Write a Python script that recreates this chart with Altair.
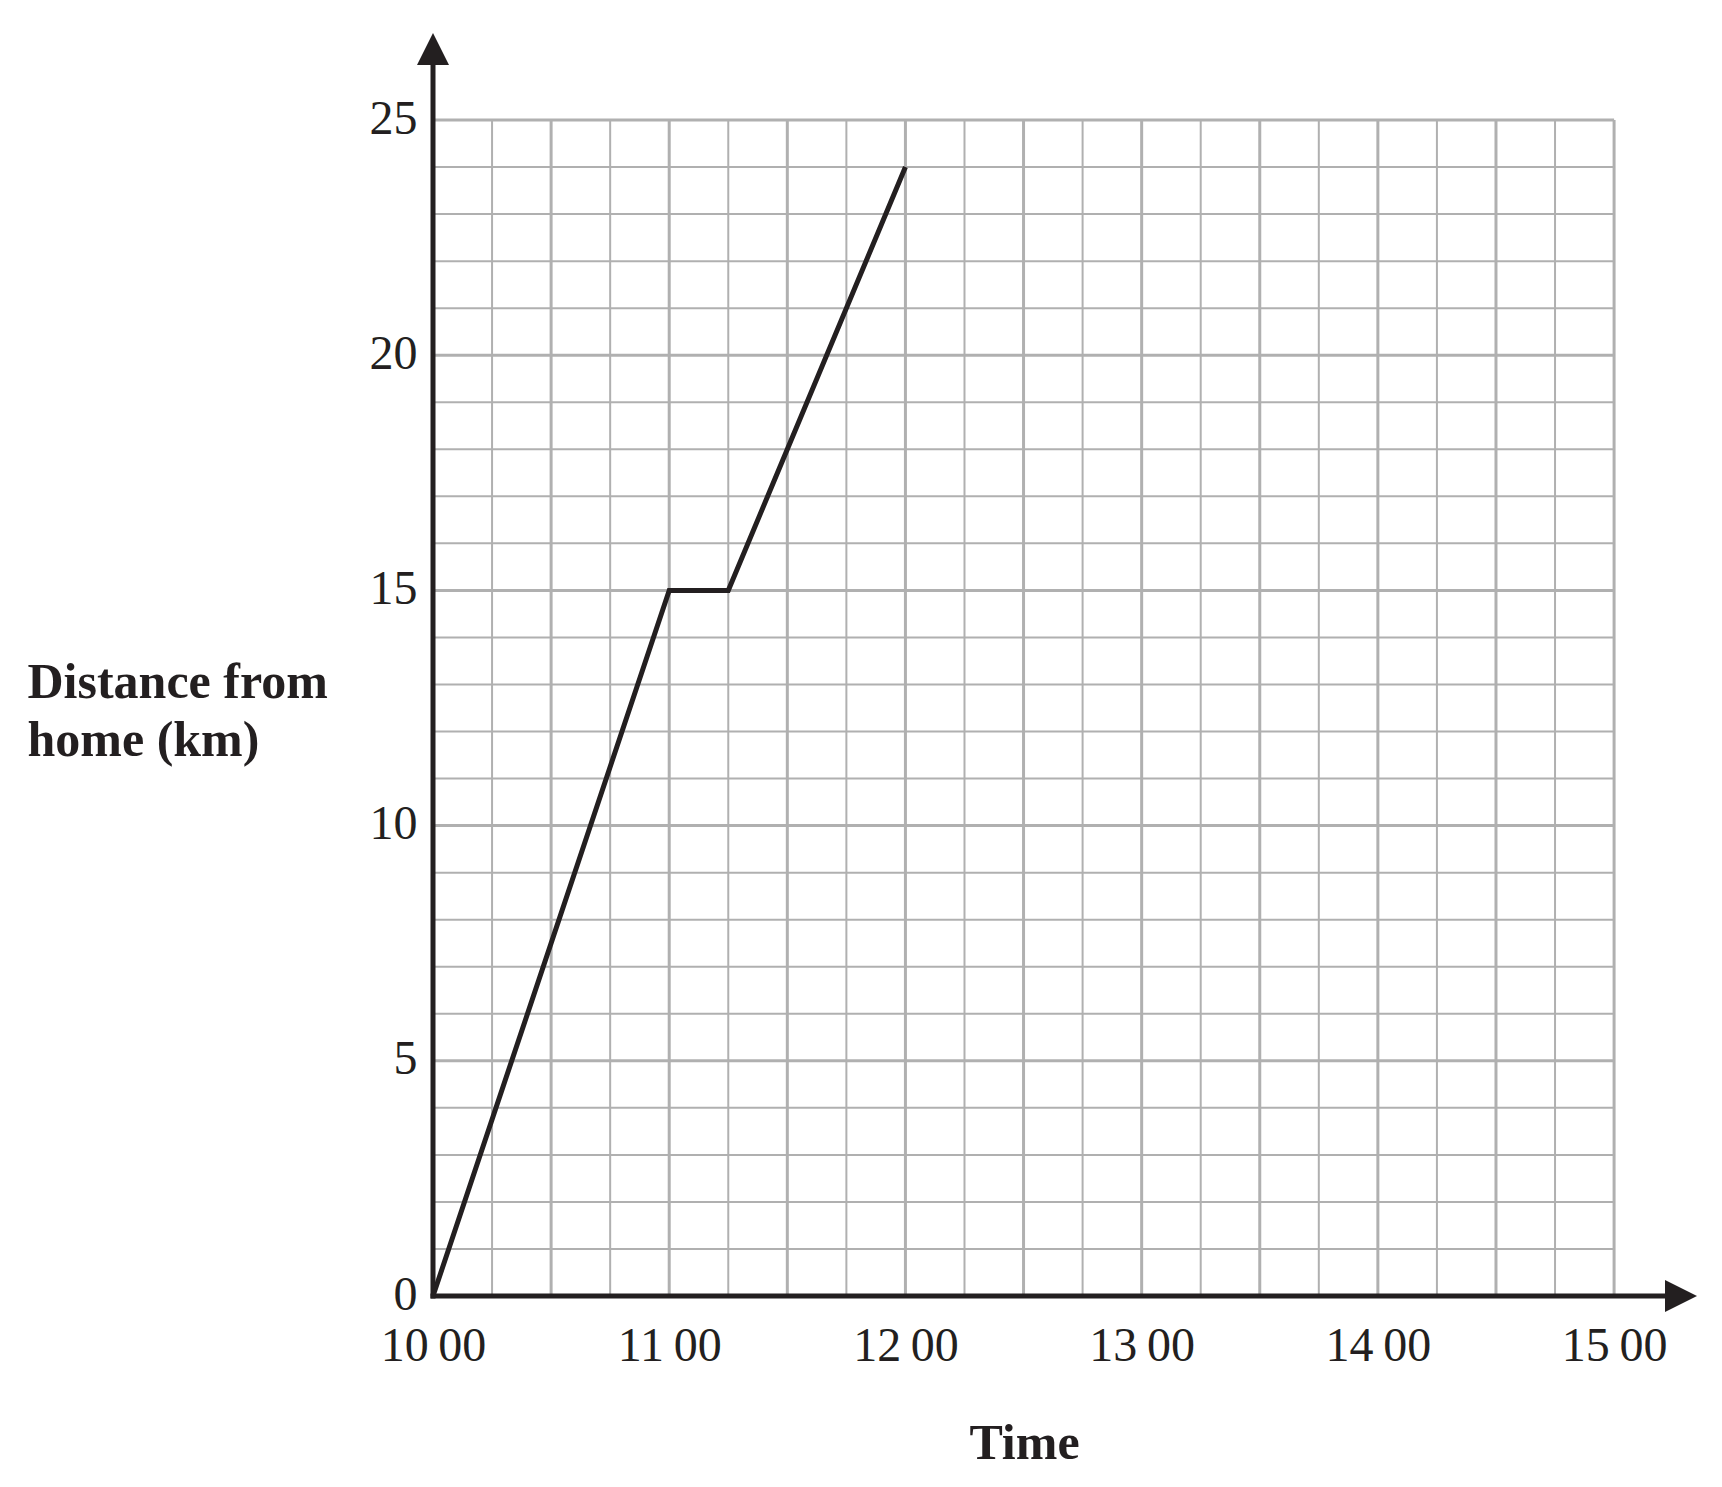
import altair as alt
import pandas as pd

# ---------------- data ----------------
times_h = [10.0, 11.0, 11.25, 12.0]          # 10:00, 11:00, 11:15, 12:00
distance_km = [0, 15, 15, 24]

x_tick_hours = [10, 11, 12, 13, 14, 15]
x_tick_labels = ["10\u200900", "11\u200900", "12\u200900", "13\u200900", "14\u200900", "15\u200900"]
y_tick_values = [0, 5, 10, 15, 20, 25]

x_major_grid = [10.0, 10.5, 11.0, 11.5, 12.0, 12.5, 13.0, 13.5, 14.0, 14.5, 15.0]
x_minor_grid = [10.25, 10.75, 11.25, 11.75, 12.25, 12.75, 13.25, 13.75, 14.25, 14.75]
y_major_grid = [0, 5, 10, 15, 20, 25]
y_minor_grid = [1, 2, 3, 4, 6, 7, 8, 9, 11, 12, 13, 14, 16, 17, 18, 19, 21, 22, 23, 24]

x_title = "Time"
y_title = ["Distance from", "home (km)"]

# ---------------- style ----------------
INK = "#231f20"
GRID = "#b0b0b0"
FONT = "Liberation Serif"

X_START, X_GRID_END, X_END = 10, 15, 15.351
Y_START, Y_GRID_END, Y_END = 0, 25, 26.85
PLOT_W, PLOT_H = 1264, 1263

xs = alt.Scale(domain=[X_START, X_END], nice=False, zero=False)
ys = alt.Scale(domain=[Y_START, Y_END], nice=False, zero=False)

label_expr = "[" + ",".join("'" + s + "'" for s in x_tick_labels) + "][round(datum.value - 10)]"

x_axis = alt.Axis(
    values=x_tick_hours, labelExpr=label_expr,
    labelFont=FONT, labelFontSize=48, labelColor=INK, labelPadding=26,
    labelFlush=False, labelOverlap=False,
    domain=False, ticks=False, grid=False,
    title=x_title, titleFont=FONT, titleFontSize=50, titleFontWeight="bold",
    titleColor=INK, titleX=591, titleY=162, titleAlign="center",
    titleBaseline="alphabetic", titleAngle=0,
)
y_axis = alt.Axis(
    values=y_tick_values,
    labelFont=FONT, labelFontSize=48, labelColor=INK, labelPadding=16,
    labelOffset=-1,
    labelFlush=False, labelOverlap=False,
    domain=False, ticks=False, grid=False,
    title=y_title, titleFont=FONT, titleFontSize=50, titleFontWeight="bold",
    titleColor=INK, titleAngle=0, titleAlign="left", titleBaseline="alphabetic",
    titleX=-406, titleY=664, titleLineHeight=58,
)

one = alt.Data(values=[{}])


def X(field=None, datum=None):
    if field is not None:
        return alt.X(field, type="quantitative", scale=xs, axis=x_axis)
    return alt.XDatum(datum, scale=xs, axis=x_axis)


def Y(field=None, datum=None):
    if field is not None:
        return alt.Y(field, type="quantitative", scale=ys, axis=y_axis)
    return alt.YDatum(datum, scale=ys, axis=y_axis)


vgrid_minor = alt.Chart(pd.DataFrame({"t": x_minor_grid})).mark_rule(
    color=GRID, strokeWidth=2).encode(x=X("t"), y=Y(datum=Y_START), y2=alt.datum(Y_GRID_END))
vgrid_major = alt.Chart(pd.DataFrame({"t": x_major_grid})).mark_rule(
    color=GRID, strokeWidth=3).encode(x=X("t"), y=Y(datum=Y_START), y2=alt.datum(Y_GRID_END))
hgrid_minor = alt.Chart(pd.DataFrame({"d": y_minor_grid})).mark_rule(
    color=GRID, strokeWidth=2).encode(y=Y("d"), x=X(datum=X_START), x2=alt.datum(X_GRID_END))
hgrid_major = alt.Chart(pd.DataFrame({"d": y_major_grid})).mark_rule(
    color=GRID, strokeWidth=3).encode(y=Y("d"), x=X(datum=X_START), x2=alt.datum(X_GRID_END))

x_axis_line = alt.Chart(one).mark_rule(
    color=INK, strokeWidth=5, strokeCap="square", x2Offset=-30).encode(
    x=X(datum=X_START), x2=alt.datum(X_END), y=Y(datum=Y_START))
y_axis_line = alt.Chart(one).mark_rule(
    color=INK, strokeWidth=5, strokeCap="square", y2Offset=30).encode(
    y=Y(datum=Y_START), y2=alt.datum(Y_END), x=X(datum=X_START))

x_arrow = alt.Chart(one).mark_point(
    shape="M1,0L-1,-1L-1,1Z", size=1024, filled=True, opacity=1, color=INK,
    strokeWidth=0, xOffset=-16).encode(x=X(datum=X_END), y=Y(datum=Y_START))
y_arrow = alt.Chart(one).mark_point(
    shape="M0,-1L1,1L-1,1Z", size=1024, filled=True, opacity=1, color=INK,
    strokeWidth=0, yOffset=16).encode(x=X(datum=X_START), y=Y(datum=Y_END))

journey = alt.Chart(pd.DataFrame({"time": times_h, "distance": distance_km})).mark_line(
    color=INK, strokeWidth=5, strokeJoin="miter").encode(
    x=X("time"), y=Y("distance"), order="time:Q")

chart = alt.layer(
    vgrid_minor, vgrid_major, hgrid_minor, hgrid_major,
    journey, x_axis_line, y_axis_line, x_arrow, y_arrow,
).properties(
    width=PLOT_W, height=PLOT_H,
    padding={"left": 19, "top": 25, "right": 5, "bottom": 5},
    background="white",
).configure_view(stroke=None)

chart.save("out.html", embed_options={"renderer": "svg", "actions": False})
